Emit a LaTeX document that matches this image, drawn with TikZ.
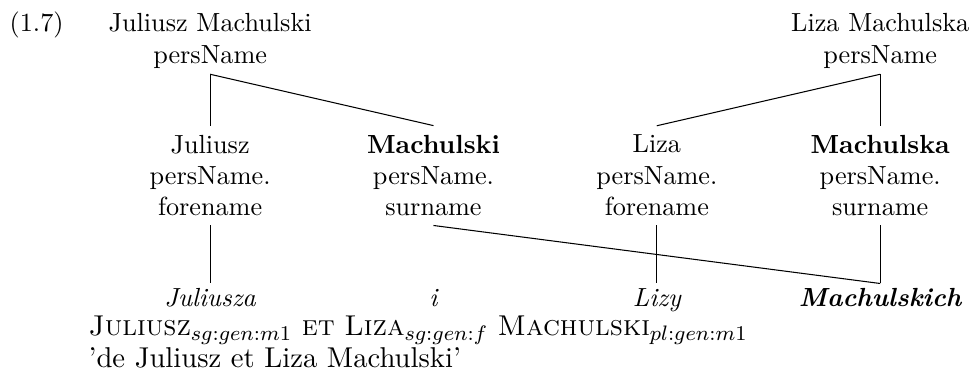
\documentclass[tikz,border=0pt]{standalone}
\usepackage{amsmath,amsfonts,amssymb}
\usepackage{xcolor}

\begin{document}
\begin{tikzpicture}[
    x=1pt, y=1pt,
    root/.style={align=center, inner ysep=2pt},
    field/.style={align=center},
    leaf/.style={font=\itshape, text height=6.9pt, text depth=1.9pt, inner ysep=1.5pt, anchor=base},
    gloss/.style={anchor=base west, inner sep=0pt, font=\fontsize{10.95}{13.6}\selectfont},
    branch/.style={draw=black}
]

% Frame
\useasboundingbox (0,0) rectangle (370.6,-147.7);

% Example number
\node[anchor=base west, inner sep=0pt] (exnum) at (3.5,-12.2) {(1.7)};

% Whole names
\node[root] (rootJ) at (80.2,-15.7) {Juliusz Machulski\\persName};
\node[root] (rootL) at (335.95,-15.7) {Liza Machulska\\persName};

% Name parts
\node[field] (foreJ) at (80.2,-67) {Juliusz\\persName.\\forename};
\node[field] (surJ) at (165.45,-67) {\textbf{Machulski}\\persName.\\surname};
\node[field] (foreL) at (250.7,-67) {Liza\\persName.\\forename};
\node[field] (surL) at (335.95,-67) {\textbf{Machulska}\\persName.\\surname};

% Inflected forms
\node[leaf] (wJ) at (80.2,-116.8) {Juliusza};
\node[leaf] (wi) at (165.45,-116.8) {i};
\node[leaf] (wL) at (250.7,-116.8) {Lizy};
\node[leaf] (wM) at (335.95,-116.8) {\textbf{Machulskich}};

% Branches
\draw[branch] (rootJ.south) -- (foreJ.north);
\draw[branch] (rootJ.south) -- (surJ.north);
\draw[branch] (rootL.south) -- (foreL.north);
\draw[branch] (rootL.south) -- (surL.north);
\draw[branch] (foreJ.south) -- (wJ.north);
\draw[branch] (surJ.south) -- (wM.north);
\draw[branch] (foreL.south) -- (wL.north);
\draw[branch] (surL.south) -- (wM.north);

% Gloss and translation
\node[gloss] (gloss) at (33.6,-128.2)
  {\textsc{Juliusz}$_{sg:gen:m1}$ \textsc{et} \textsc{Liza}$_{sg:gen:f}$ \textsc{Machulski}$_{pl:gen:m1}$};
\node[gloss] (transl) at (33.6,-140.2) {'de Juliusz et Liza Machulski'};

\end{tikzpicture}
\end{document}
